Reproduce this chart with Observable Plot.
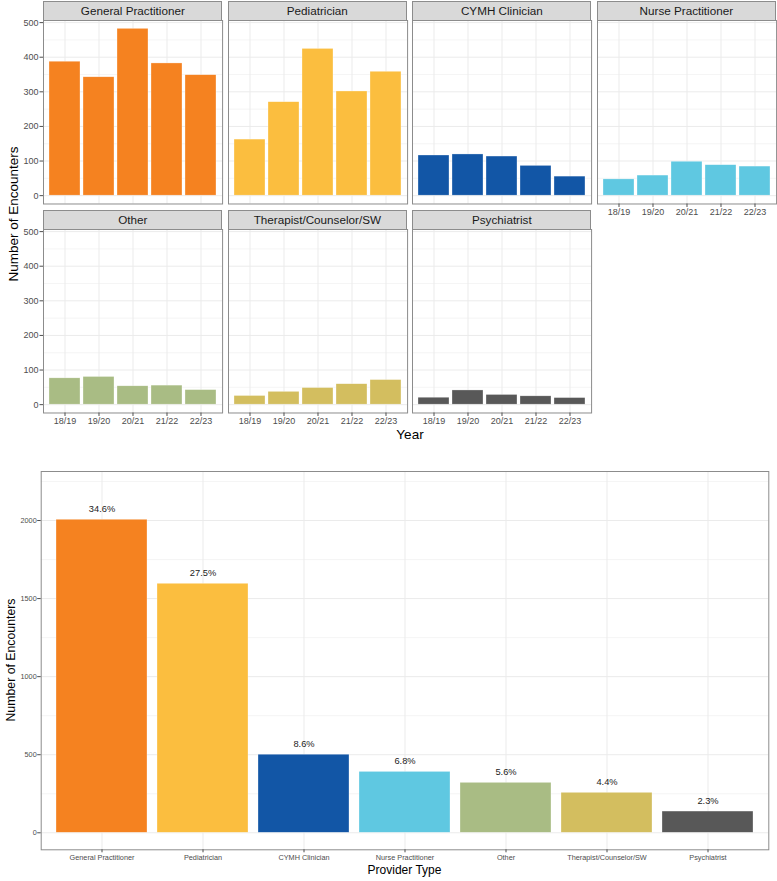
<!DOCTYPE html>
<html>
<head>
<meta charset="utf-8">
<script src="https://cdn.jsdelivr.net/npm/d3@7"></script>
<script src="https://cdn.jsdelivr.net/npm/@observablehq/plot@0.6"></script>
<style>
  body { margin: 0; background: #fff; }
  #chart { position: relative; width: 777px; height: 881px; background: #fff; overflow: hidden;
           font-family: "Liberation Sans", Arial, sans-serif; }
  .strip { position: absolute; box-sizing: border-box; background: #d9d9d9; border: 1px solid #8c8c8c;
           color: #1a1a1a; font-size: 11.7px; text-align: center; line-height: 18px; white-space: nowrap; }
  .atitle { position: absolute; color: #000; white-space: nowrap; transform: translate(-50%, -50%); }
  .atitle.rot { transform: translate(-50%, -50%) rotate(-90deg); }
</style>
</head>
<body>
<div id="chart"></div>
<script>
// ---------------- data ----------------
const years = ["18/19", "19/20", "20/21", "21/22", "22/23"];
const providers = ["General Practitioner", "Pediatrician", "CYMH Clinician", "Nurse Practitioner",
                   "Other", "Therapist/Counselor/SW", "Psychiatrist"];
const colors = ["#F58220", "#FBBE3F", "#1256A6", "#5FC8E1", "#A9BC84", "#D3BE5F", "#585858"];

const gpByYear        = [387, 342, 482, 382, 348];
const pedByYear       = [162, 270, 424, 301, 358];
const cymhByYear      = [116, 119, 113, 86, 55];
const npByYear        = [47, 58, 98, 88, 84];
const otherByYear     = [76, 80, 53, 55, 42];
const therapistByYear = [25, 37, 48, 59, 71];
const psychByYear     = [20, 41, 28, 24, 19];

const totals = [2005, 1595, 500, 390, 320, 256, 136];
const shares = ["34.6%", "27.5%", "8.6%", "6.8%", "5.6%", "4.4%", "2.3%"];

const facetTicks = [0, 100, 200, 300, 400, 500];
const facetMinor = [50, 150, 250, 350, 450];
const totalTicks = [0, 500, 1000, 1500, 2000];
const totalMinor = [250, 750, 1250, 1750, 2250];

// ---------------- layout ----------------
const FONT = '"Liberation Sans", Arial, sans-serif';
const chart = document.getElementById("chart");
const series = [gpByYear, pedByYear, cymhByYear, npByYear, otherByYear, therapistByYear, psychByYear];
const plain = d => String(d);

const colLeft = [43.3, 227.8, 412.3, 596.8];
const rowTop = [20.3, 229.3];
const PW = 179.1, PH = 183.5;
const ML = 32, MR = 2, MT = 2, MB = 22;
const GRID = "#ebebeb";
const FRAME = "#8c8c8c";
const TICKC = "#4d4d4d";

providers.forEach((name, i) => {
  const r = Math.floor(i / 4), c = i % 4;
  const showY = c === 0;
  const showX = r === 1 || c === 3;
  const data = years.map((year, j) => ({year, value: series[i][j]}));
  const marks = [
    Plot.gridY(facetMinor, {stroke: GRID, strokeWidth: 0.5, strokeOpacity: 1}),
    Plot.gridY(facetTicks, {stroke: GRID, strokeWidth: 1, strokeOpacity: 1}),
    Plot.gridX(years, {stroke: GRID, strokeWidth: 1, strokeOpacity: 1}),
    Plot.barY(data, {x: "year", y: "value", fill: colors[i], stroke: "#fff", strokeWidth: 0.5, strokeOpacity: 0.6}),
    Plot.frame({stroke: FRAME, strokeWidth: 1})
  ];
  if (showY) marks.push(Plot.axisY(facetTicks, {label: null, tickSize: 3.5, tickPadding: 1.5, fontSize: 9, color: TICKC, tickFormat: plain}));
  if (showX) marks.push(Plot.axisX({label: null, tickSize: 3.5, tickPadding: 1, fontSize: 9, color: TICKC}));
  const svg = Plot.plot({
    width: ML + PW + MR, height: MT + PH + MB,
    marginLeft: ML, marginRight: MR, marginTop: MT, marginBottom: MB,
    style: {background: "transparent", overflow: "visible", fontFamily: FONT},
    x: {domain: years, paddingInner: 0.1, paddingOuter: 0.15, label: null, axis: showX ? undefined : null},
    y: {domain: [-24.1, 506.1], label: null, axis: showY ? undefined : null},
    marks
  });
  svg.style.position = "absolute";
  svg.style.left = (colLeft[c] - ML) + "px";
  svg.style.top = (rowTop[r] - MT) + "px";
  chart.appendChild(svg);

  const strip = document.createElement("div");
  strip.className = "strip";
  strip.textContent = name;
  strip.style.left = colLeft[c] + "px";
  strip.style.top = (rowTop[r] - 19.8) + "px";
  strip.style.width = PW + "px";
  strip.style.height = "20.3px";
  chart.appendChild(strip);
});

function addTitle(text, x, y, size, rotate) {
  const d = document.createElement("div");
  d.className = "atitle" + (rotate ? " rot" : "");
  d.textContent = text;
  d.style.left = x + "px";
  d.style.top = y + "px";
  d.style.fontSize = size + "px";
  chart.appendChild(d);
}
addTitle("Number of Encounters", 13, 214, 13.5, true);
addTitle("Year", 410, 434, 13.5, false);

// ---------------- bottom chart ----------------
const totalData = providers.map((p, i) => ({provider: p, total: totals[i], share: shares[i], hue: colors[i]}));
const bottom = Plot.plot({
  width: 777, height: 419,
  marginLeft: 40.7, marginRight: 8.7, marginTop: 9, marginBottom: 31.7,
  style: {background: "transparent", overflow: "visible", fontFamily: FONT},
  x: {domain: providers, paddingInner: 0.1, paddingOuter: 0.15, label: null},
  y: {domain: [-109, 2314], label: null},
  color: {type: "identity"},
  marks: [
    Plot.gridY(totalMinor, {stroke: GRID, strokeWidth: 0.5, strokeOpacity: 1}),
    Plot.gridY(totalTicks, {stroke: GRID, strokeWidth: 1, strokeOpacity: 1}),
    Plot.gridX(providers, {stroke: GRID, strokeWidth: 1, strokeOpacity: 1}),
    Plot.barY(totalData, {x: "provider", y: "total", fill: "hue", stroke: "#fff", strokeWidth: 0.5, strokeOpacity: 0.6}),
    Plot.text(totalData, {x: "provider", y: "total", text: "share", dy: -11, fontSize: 9.3, fill: "#222"}),
    Plot.frame({stroke: FRAME, strokeWidth: 1}),
    Plot.axisY(totalTicks, {label: null, tickSize: 3.5, tickPadding: 1, fontSize: 7.3, color: TICKC, tickFormat: plain}),
    Plot.axisX({label: null, tickSize: 3, tickPadding: 2, fontSize: 7.3, color: TICKC})
  ]
});
bottom.style.position = "absolute";
bottom.style.left = "0px";
bottom.style.top = "462px";
chart.appendChild(bottom);

addTitle("Number of Encounters", 11, 660, 12.3, true);
addTitle("Provider Type", 404.5, 870, 12, false);
</script>
</body>
</html>
